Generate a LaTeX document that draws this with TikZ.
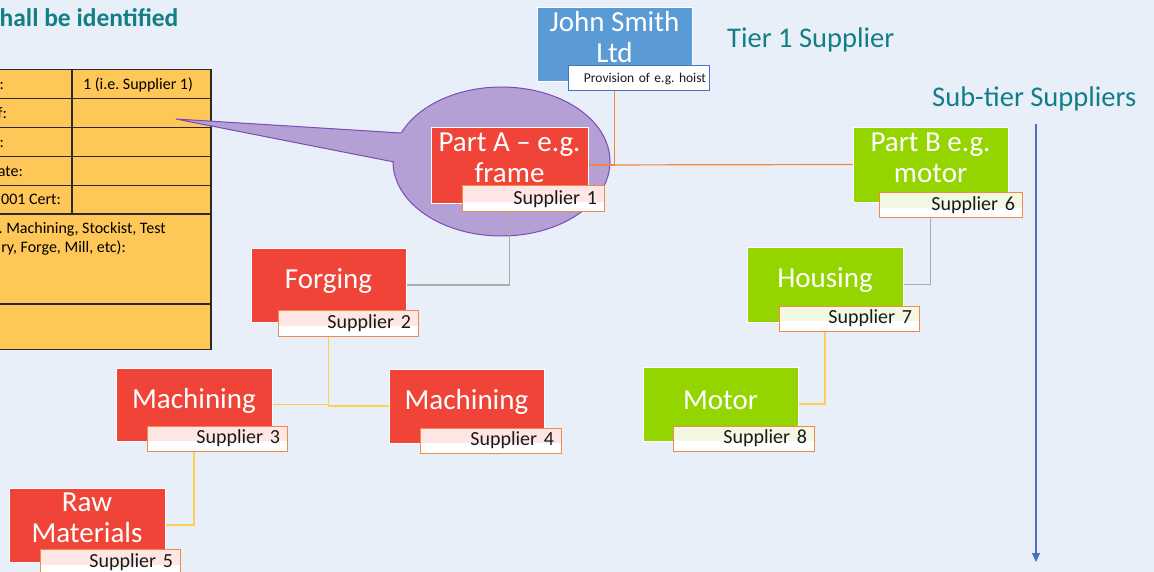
\documentclass[tikz,border=0pt]{standalone}
\usepackage{fontspec}
\setmainfont{Carlito}
\usetikzlibrary{arrows.meta}
\frenchspacing
\definecolor{bgc}{HTML}{E9EFF9}
\definecolor{redc}{HTML}{F04438}
\definecolor{greenc}{HTML}{94D500}
\definecolor{bluec}{HTML}{5B9BD5}
\definecolor{tealc}{HTML}{127E86}
\definecolor{labor}{HTML}{F08A4B}
\definecolor{pinkt}{HTML}{FDE6E3}
\definecolor{greent}{HTML}{F2F8E2}
\definecolor{provb}{HTML}{4472C4}
\definecolor{tablef}{HTML}{FFC658}
\definecolor{tableb}{HTML}{2A2A2A}
\definecolor{purf}{HTML}{B4A0D4}
\definecolor{purb}{HTML}{7A4DB6}
\definecolor{grayl}{HTML}{ADADAD}
\definecolor{yell}{HTML}{FFD050}
\definecolor{orl}{HTML}{F0883E}
\definecolor{arrc}{HTML}{4472C4}
\definecolor{txtc}{HTML}{1A1A1A}
\pgfdeclarelayer{back}\pgfdeclarelayer{conn}\pgfsetlayers{back,conn,main}
\newcommand{\boxnode}[8]{%
  \node[#2, anchor=north west, minimum width={#5-#3}, minimum height={#6-#4}] (#1) at (#3,#4) {};
  \node[boxtext] (#1t) at ([yshift=#7pt]#1.center) {#8};}
\newcommand{\labnode}[8]{%
  \node[#2, anchor=north west, inner xsep=#7pt, minimum width={#5-#3}, minimum height={#6-#4}, text width={#5-#3-2*#7}] (#1) at (#3,#4) {#8};}
\tikzset{
  box/.style={draw=white, line width=0.8pt, inner sep=0pt, outer sep=0pt},
  redbox/.style={box, fill=redc},
  greenbox/.style={box, fill=greenc},
  bluebox/.style={box, fill=bluec},
  boxtext/.style={text=white, font=\fontsize{29}{31}\selectfont, align=center, inner sep=0pt},
  lab/.style={draw=labor, line width=1pt, fill=white, inner ysep=0pt, outer sep=0pt, align=right, font=\fontsize{20}{22}\selectfont, text=txtc},
  redlab/.style={lab, path picture={\fill[pinkt] (path picture bounding box.north west) rectangle ([yshift=10pt]path picture bounding box.south east);}},
  greenlab/.style={lab, path picture={\fill[greent] (path picture bounding box.north west) rectangle ([yshift=10pt]path picture bounding box.south east);}},
  provlab/.style={draw=provb, line width=1pt, fill=white, inner ysep=0pt, outer sep=0pt, align=right, font=\fontsize{13.5}{15}\selectfont, text=txtc},
  tt/.style={font=\fontsize{16}{19.5}\selectfont, text=black, inner sep=0pt},
  heading/.style={anchor=base west, font=\fontsize{28.5}{31}\selectfont, text=tealc, inner sep=0pt},
  conline/.style={line width=1.2pt},
}
\begin{document}
\begin{tikzpicture}[x=1pt,y=-1pt]
\useasboundingbox (0,0) rectangle (1154,572);
\begin{pgfonlayer}{back}
  \fill[bgc] (0,0) rectangle (1154,572);
  % table
  \path[fill=tablef, draw=tableb, line width=1.6pt] (-5,69.5) rectangle (211,349.5);
  \foreach \yy in {98.5,127.5,156.5,185.5,214} \draw[tableb, line width=1.3pt] (-5,\yy) -- (211,\yy);
  \draw[tableb, line width=2pt] (-5,304) -- (211,304);
  \draw[tableb, line width=1.3pt] (72,69.5) -- (72,214);
  % callout
  \fill[purf] (176,119) -- (401,133) -- (394,162) -- cycle;
  \path[fill=purf, draw=purb, line width=1pt] (501.5,161.5) ellipse [x radius=108.5, y radius=74.5];
  \fill[purf] (176,119) -- (403,133) -- (396,162) -- cycle;
  \draw[purb, line width=1pt] (401,133) -- (176,119) -- (394,162);
\end{pgfonlayer}

% title and headings
\node[anchor=base west, font=\bfseries\fontsize{25.5}{28}\selectfont, text=tealc, inner sep=0pt] (title) at (-0.5,27) {hall be identified};
\node[heading] (tier1) at (727,48) {Tier 1 Supplier};
\node[heading] (subtier) at (932,107) {Sub-tier Suppliers};

% table texts
\node[tt, anchor=base] (r1v) at (138,90) {1 (i.e. Supplier 1)};
\node[tt, anchor=base east] (r1) at (4,90) {:};
\node[tt, anchor=base east] (r2) at (7,119) {f:};
\node[tt, anchor=base east] (r3) at (4,148) {:};
\node[tt, anchor=base east] (r4) at (23,177) {ate:};
\node[tt, anchor=base east] (r5) at (61,205) {001 Cert:};
\node[tt, anchor=base east] (r6a) at (166,234) {. Machining, Stockist, Test};
\node[tt, anchor=base east] (r6b) at (126,253) {ry, Forge, Mill, etc):};

% boxes and labels
\boxnode{john}{bluebox}{537}{7}{692}{81}{6.5}{John Smith\\Ltd}
\labnode{prov}{provlab}{568}{66}{709}{91}{3}{Provision of e.g. hoist}
\boxnode{parta}{redbox}{431}{127}{588}{203}{7}{Part A – e.g.\\frame}
\labnode{s1}{redlab}{462}{186}{604}{212}{7}{Supplier 1}
\boxnode{partb}{greenbox}{853}{127}{1008}{202}{7}{Part B e.g.\\motor}
\labnode{s6}{greenlab}{879}{193}{1022}{218}{7}{Supplier 6}
\boxnode{forging}{redbox}{251}{248}{406}{322}{4}{Forging}
\labnode{s2}{redlab}{278}{310}{418}{336}{7}{Supplier 2}
\boxnode{mach3}{redbox}{116}{368}{272}{441}{4}{Machining}
\labnode{s3}{redlab}{147}{426}{287}{451}{7}{Supplier 3}
\boxnode{mach4}{redbox}{389}{369}{544}{443}{4}{Machining}
\labnode{s4}{redlab}{420}{428}{561}{453}{7}{Supplier 4}
\boxnode{raw}{redbox}{9}{488}{165}{562}{7}{Raw\\Materials}
\labnode{s5}{redlab}{40}{549}{180}{575}{7}{Supplier 5}
\boxnode{housing}{greenbox}{747}{247}{903}{322}{4}{Housing}
\labnode{s7}{greenlab}{779}{306}{919}{331}{7}{Supplier 7}
\boxnode{motor}{greenbox}{643}{367}{798}{441}{4}{Motor}
\labnode{s8}{greenlab}{673}{426}{814}{451}{7}{Supplier 8}

% arrow
\coordinate (atop) at (1036,124);
\coordinate (abot) at (1036,562);
\draw[arrc, line width=1.2pt, -{Triangle[width=8pt,length=9pt]}] (atop) -- (abot);

% connectors
\begin{pgfonlayer}{conn}
  \draw[conline, orl] (john.center) |- (parta.east);
  \draw[conline, orl] (parta.east) -- (partb.west);
  \draw[conline, grayl] (parta.center) |- (forging.east);
  \draw[conline, yell] (forging.center) |- (mach3.east);
  \draw[conline, yell] (forging.center) |- (mach4.west);
  \draw[conline, yell] (mach3.center) |- (raw.east);
  \draw[conline, grayl] (partb.center) |- (housing.east);
  \draw[conline, yell] (housing.center) |- (motor.east);
\end{pgfonlayer}
\end{tikzpicture}
\end{document}
